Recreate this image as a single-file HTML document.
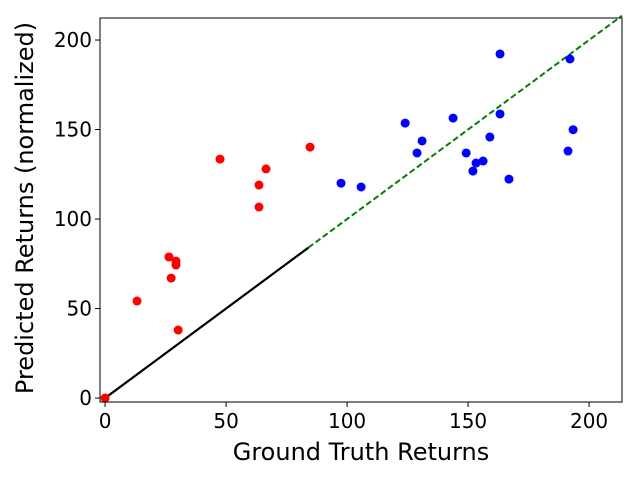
<!DOCTYPE html>
<html><head><meta charset="utf-8"><style>
body{margin:0;background:#fff;}
svg text{font-family:"DejaVu Sans","Liberation Sans",sans-serif;fill:#000;}
</style></head><body>
<svg id="chart" width="640" height="480" xmlns="http://www.w3.org/2000/svg"></svg>
<script>
const redX=[0,13.2,26.4,27.3,29.3,29.3,30.2,47.5,63.6,63.6,66.5,84.7];
const redY=[0,54.2,78.8,67,76.5,74.3,38,133.5,106.7,119,128,140.2];
const blueX=[97.5,105.8,124,128.9,131,143.8,149.2,152,153.3,156.2,159,163.2,163.2,166.9,191.3,192.1,193.4];
const blueY=[120,117.9,153.6,136.9,143.6,156.4,136.9,126.8,131.3,132.4,145.8,192.2,158.7,122.3,138,189.4,149.9];
const xTicks=[0,50,100,150,200];
const yTicks=[0,50,100,150,200];
const splitVal=84;
const xMin=-2.1,xMax=213.6,yMin=-2.2,yMax=212.3;
const L=100,R=622,T=18,B=402;
const sx=v=>L+(v-xMin)/(xMax-xMin)*(R-L);
const sy=v=>B-(v-yMin)/(yMax-yMin)*(B-T);
const svg=document.getElementById('chart');
const NS='http://www.w3.org/2000/svg';
function mk(tag,attrs){const e=document.createElementNS(NS,tag);for(const k in attrs)e.setAttribute(k,attrs[k]);svg.appendChild(e);return e;}
let e;
e=mk('line',{x1:sx(0),y1:sy(0),x2:sx(splitVal),y2:sy(splitVal),stroke:'#000','stroke-width':2.2});


e=mk('line',{x1:sx(splitVal),y1:sy(splitVal),x2:sx(xMax),y2:sy(xMax),stroke:'#008000','stroke-width':2,'stroke-dasharray':'6,3'});


redX.forEach((v,i)=>{const c=mk('circle',{cx:sx(v),cy:sy(redY[i]),r:4.5,fill:'#ff0000'});

});
blueX.forEach((v,i)=>{const c=mk('circle',{cx:sx(v),cy:sy(blueY[i]),r:4.5,fill:'#0000ff'});

});
e=mk('rect',{x:L,y:T,width:R-L,height:B-T,fill:'none',stroke:'#000','stroke-width':1});


xTicks.forEach(v=>{const x=sx(v);
const t=mk('line',{x1:x,y1:B,x2:x,y2:B+5,stroke:'#000'});


const l=mk('text',{x:x,y:B+26,'text-anchor':'middle','font-size':20});l.textContent=v;

});
yTicks.forEach(v=>{const y=sy(v);
const t=mk('line',{x1:L-5,y1:y,x2:L,y2:y,stroke:'#000'});


const l=mk('text',{x:L-8,y:y+7,'text-anchor':'end','font-size':20});l.textContent=v;

});
e=mk('text',{x:(L+R)/2,y:460,'text-anchor':'middle','font-size':24});e.textContent='Ground Truth Returns';


e=mk('text',{x:0,y:0,'text-anchor':'middle','font-size':24,transform:'translate(33,'+((T+B)/2-2)+') rotate(-90)'});e.textContent='Predicted Returns (normalized)';


</script>
</body></html>
